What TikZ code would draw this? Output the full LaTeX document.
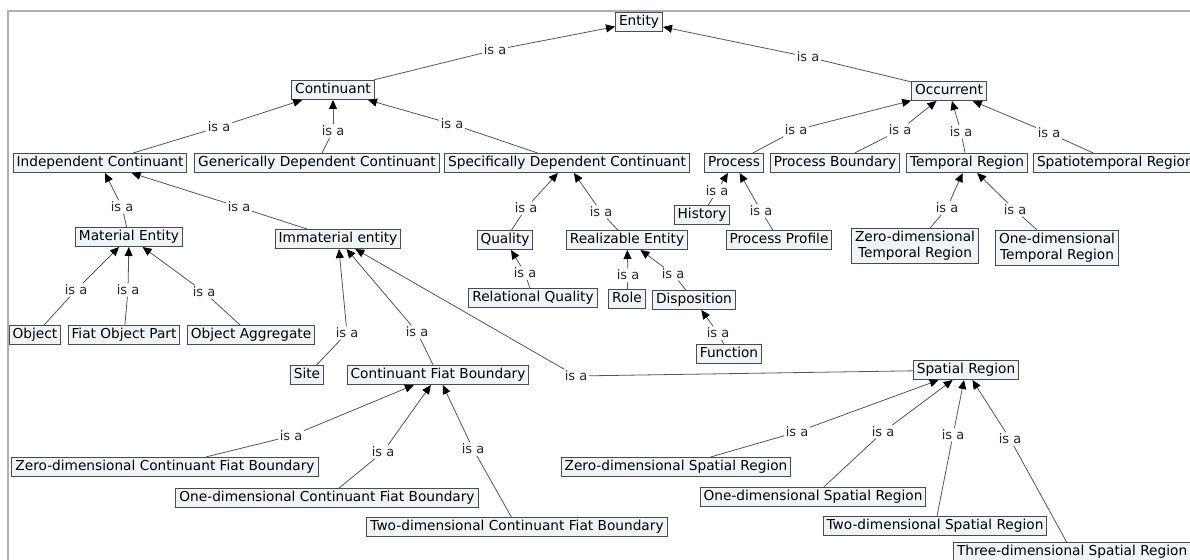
\documentclass[tikz,border=0pt]{standalone}
\usepackage{fontspec}
\setmainfont{DejaVu Sans}
\usetikzlibrary{arrows.meta}
\definecolor{boxfill}{RGB}{238,244,247}
\definecolor{boxline}{RGB}{75,75,75}
\definecolor{linkc}{RGB}{85,85,85}
\definecolor{framec}{RGB}{175,175,175}

\tikzset{
  cbox/.style={draw=boxline, fill=boxfill, line width=1pt, inner xsep=3.5pt,
    inner ysep=2.5pt, align=center, font=\fontsize{13.7}{16}\selectfont},
  concept/.style={cbox, text height=10.5pt, text depth=3.5pt},
  twoline/.style={cbox, inner ysep=3pt},
  isa/.style={inner sep=1.5pt, text=black!85, font=\fontsize{13}{15}\selectfont},
  link/.style={draw=linkc, line width=0.8pt},
  isarrow/.style={link, -{Triangle[length=9pt,width=8pt,color=black]}},
}

\begin{document}
\begin{tikzpicture}[x=1pt, y=-1pt]

% canvas: 1190 x 559, origin top-left, y grows downwards
\useasboundingbox (0,0) rectangle (1190,559);
\clip (0,0) rectangle (1190,559);

%% ── frame ────────────────────────────────────────────────────────
\draw[framec, line width=1.5pt] (8,560) -- (8,11) -- (1191,11);

%% ── top levels ───────────────────────────────────────────────────
\node[concept] (entity) at (639,22) {Entity};
\node[concept] (cont)   at (333,90) {Continuant};
\node[concept] (occ)    at (949,91) {Occurrent};

%% ── continuant branch ────────────────────────────────────────────
\node[concept] (indep) at (100,163) {Independent Continuant};
\node[concept] (gdc)   at (317,163) {Generically Dependent Continuant};
\node[concept] (sdc)   at (567,163) {Specifically Dependent Continuant};

\node[concept] (mat)   at (129,237) {Material Entity};
\node[concept] (immat) at (338,239) {Immaterial entity};
\node[concept] (obj)   at (35,335)  {Object};
\node[concept] (fop)   at (124,335) {Fiat Object Part};
\node[concept] (oagg)  at (251,335) {Object Aggregate};
\node[concept] (site)  at (307,375) {Site};
\node[concept] (cfb)   at (438,375) {Continuant Fiat Boundary};
\node[concept] (zcfb)  at (165,467) {Zero-dimensional Continuant Fiat Boundary};
\node[concept] (ocfb)  at (327,498) {One-dimensional Continuant Fiat Boundary};
\node[concept] (tcfb)  at (517,527) {Two-dimensional Continuant Fiat Boundary};

\node[concept] (qual)  at (505,240) {Quality};
\node[concept] (real)  at (627,240) {Realizable Entity};
\node[concept] (relq)  at (533,298) {Relational Quality};
\node[concept] (role)  at (627,299) {Role};
\node[concept] (disp)  at (694,300) {Disposition};
\node[concept] (func)  at (729,354) {Function};

%% ── spatial regions ──────────────────────────────────────────────
\node[concept] (sreg) at (966,370) {Spatial Region};
\node[concept] (zsr)  at (676,467) {Zero-dimensional Spatial Region};
\node[concept] (osr)  at (813,497) {One-dimensional Spatial Region};
\node[concept] (tsr)  at (935,526) {Two-dimensional Spatial Region};
\node[concept, anchor=west] (thsr) at (953,552) {Three-dimensional Spatial Region};

%% ── occurrent branch ─────────────────────────────────────────────
\node[concept] (proc)   at (734,163) {Process};
\node[concept] (pbound) at (835,163) {Process Boundary};
\node[concept] (treg)   at (967,163) {Temporal Region};
\node[concept, anchor=west] (streg) at (1033,163) {Spatiotemporal Region};
\node[concept] (hist)   at (702,215) {History};
\node[concept] (pprof)  at (779,240) {Process Profile};
\node[twoline] (ztreg)  at (915,246) {Zero-dimensional\\Temporal Region};
\node[twoline] (otreg)  at (1057,248) {One-dimensional\\Temporal Region};

%% ── "is a" links: child / parent / label position ────────────────
\foreach \c/\p/\x/\y in {
    cont/entity/495/50, occ/entity/808/57,
    indep/cont/219/127, gdc/cont/333/131, sdc/cont/452/124,
    proc/occ/796/130, pbound/occ/900/130, treg/occ/961/132, streg/occ/1049/133,
    mat/indep/122/207, immat/indep/239/207,
    qual/sdc/526/208, real/sdc/601/212,
    hist/proc/717/191, pprof/proc/761/211,
    ztreg/treg/947/208, otreg/treg/1015/210,
    obj/mat/76/290, fop/mat/128/290, oagg/mat/204/292,
    site/immat/347/333, cfb/immat/417/332, sreg/immat/576/376,
    relq/qual/525/273, role/real/628/275, disp/real/673/274, func/disp/718/333,
    zcfb/cfb/291/436, ocfb/cfb/383/452, tcfb/cfb/473/449,
    zsr/sreg/797/432, osr/sreg/883/432, tsr/sreg/953/435, thsr/sreg/1010/439}{
  \node[isa] (isa-\c) at (\x,\y) {is a};
  \draw[link] (\c) -- (isa-\c);
  \draw[isarrow] (isa-\c) -- (\p);
}

\end{tikzpicture}
\end{document}
